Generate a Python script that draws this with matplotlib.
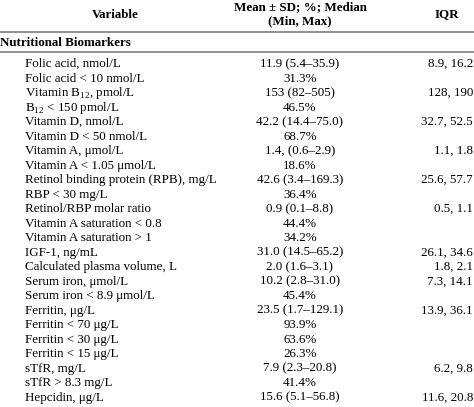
import matplotlib
matplotlib.use("Agg")
import matplotlib.pyplot as plt

plt.rcParams['font.family'] = ['Liberation Serif', 'DejaVu Serif']
plt.rcParams['mathtext.fontset'] = 'custom'
plt.rcParams['mathtext.rm'] = 'Liberation Serif'

variables = ["Folic acid, nmol/L", "Folic acid < 10 nmol/L", "Vitamin B$_{12}$, pmol/L",
             "B$_{12}$ < 150 pmol/L", "Vitamin D, nmol/L", "Vitamin D < 50 nmol/L",
             "Vitamin A, μmol/L", "Vitamin A < 1.05 μmol/L", "Retinol binding protein (RPB), mg/L",
             "RBP < 30 mg/L", "Retinol/RBP molar ratio", "Vitamin A saturation < 0.8",
             "Vitamin A saturation > 1", "IGF-1, ng/mL", "Calculated plasma volume, L",
             "Serum iron, μmol/L", "Serum iron < 8.9 μmol/L", "Ferritin, μg/L",
             "Ferritin < 70 μg/L", "Ferritin < 30 μg/L", "Ferritin < 15 μg/L",
             "sTfR, mg/L", "sTfR > 8.3 mg/L", "Hepcidin, μg/L"]
means = ["11.9 (5.4–35.9)", "31.3%", "153 (82–505)", "46.5%", "42.2 (14.4–75.0)", "68.7%",
         "1.4, (0.6–2.9)", "18.6%", "42.6 (3.4–169.3)", "36.4%", "0.9 (0.1–8.8)", "44.4%",
         "34.2%", "31.0 (14.5–65.2)", "2.0 (1.6–3.1)", "10.2 (2.8–31.0)", "45.4%",
         "23.5 (1.7–129.1)", "93.9%", "63.6%", "26.3%", "7.9 (2.3–20.8)", "41.4%",
         "15.6 (5.1–56.8)"]
iqrs = ["8.9, 16.2", "", "128, 190", "", "32.7, 52.5", "", "1.1, 1.8", "", "25.6, 57.7", "",
        "0.5, 1.1", "", "", "26.1, 34.6", "1.8, 2.1", "7.3, 14.1", "", "13.9, 36.1", "", "", "",
        "6.2, 9.8", "", "11.6, 20.8"]

fig = plt.figure(figsize=(4.74, 4.07), dpi=100)
ax = fig.add_axes([0, 0, 1, 1])
ax.set_xlim(0, 474)
ax.set_ylim(407, 0)
ax.axis('off')

fs = 9.4
b = 3.6  # baseline offset from row center
ax.text(115, 14 + b, "Variable", ha='center', va='baseline', fontsize=fs, fontweight='bold')
ax.text(300, 6 + b, "Mean ± SD; %; Median", ha='center', va='baseline', fontsize=fs, fontweight='bold')
ax.text(300, 21 + b, "(Min, Max)", ha='center', va='baseline', fontsize=fs, fontweight='bold')
ax.text(447, 14 + b, "IQR", ha='center', va='baseline', fontsize=fs, fontweight='bold')
ax.plot([0, 474], [32, 32], color='#888888', lw=1.3)
ax.text(0, 42 + b, "Nutritional Biomarkers", ha='left', va='baseline', fontsize=fs, fontweight='bold')
ax.plot([0, 474], [52, 52], color='#888888', lw=1.3)

y0, dy = 63.5, 14.5
for i, (v, m, q) in enumerate(zip(variables, means, iqrs)):
    y = y0 + i * dy + b
    ax.text(25, y, v, ha='left', va='baseline', fontsize=fs)
    ax.text(300, y, m, ha='center', va='baseline', fontsize=fs)
    if q:
        ax.text(473, y, q, ha='right', va='baseline', fontsize=fs)

fig.savefig("out.png", dpi=100)
